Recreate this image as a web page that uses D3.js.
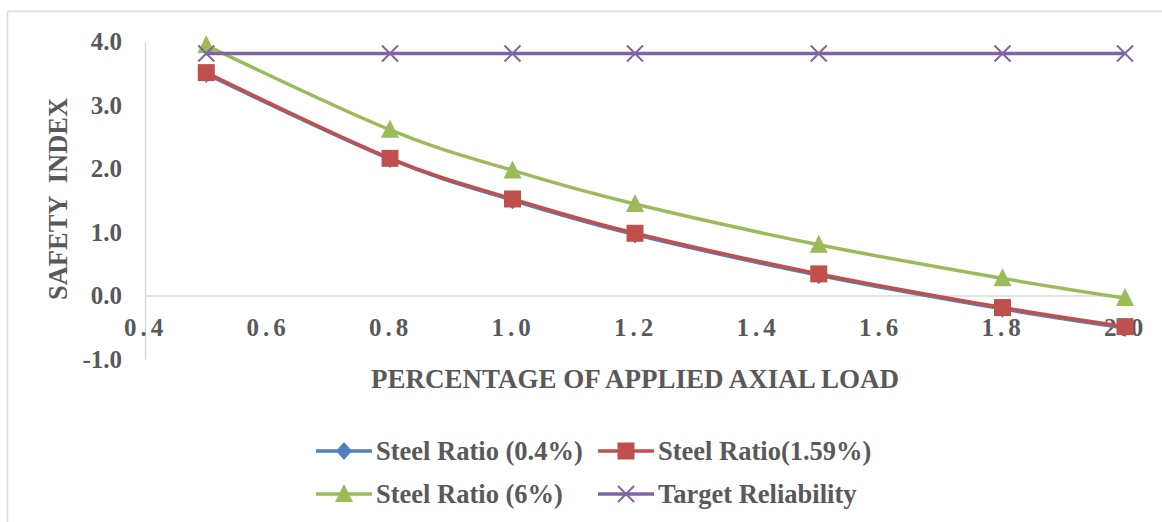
<!DOCTYPE html>
<html>
<head>
<meta charset="utf-8">
<script src="https://cdn.jsdelivr.net/npm/d3@7"></script>
<style>
  body { margin: 0; background: #fff; }
  text { font-family: "Liberation Serif", "Times New Roman", serif; font-weight: bold; fill: #595959; }
</style>
</head>
<body>
<div id="chart-area"></div>
<script>
// data
let loads = [0.5, 0.8, 1.0, 1.2, 1.5, 1.8, 2.0];
let steel04 = [3.49, 2.15, 1.50, 0.96, 0.32, -0.21, -0.51];
let steel159 = [3.51, 2.16, 1.52, 0.98, 0.34, -0.19, -0.49];
let steel6 = [3.94, 2.61, 1.97, 1.44, 0.80, 0.27, -0.04];
let target = [3.81, 3.81, 3.81, 3.81, 3.81, 3.81, 3.81];
let xTicks = [0.4, 0.6, 0.8, 1.0, 1.2, 1.4, 1.6, 1.8, 2.0];
let yTicks = [-1, 0, 1, 2, 3, 4];

let seriesNames = ["Steel Ratio (0.4%)", "Steel Ratio(1.59%)", "Steel Ratio (6%)", "Target Reliability"];
let seriesColors = ["#4F81BD", "#C0504D", "#9BBB59", "#8064A2"];
let seriesShapes = ["diamond", "square", "triangle", "cross"];

let W = 1162, H = 522;

let svg = d3.select("#chart-area").append("svg")
	.attr("width", W)
	.attr("height", H);

// chart frame (only top and left edges show)
svg.append("line").attr("x1", 7.5).attr("x2", W).attr("y1", 11.5).attr("y2", 11.5)
	.attr("stroke", "#d9d9d9").attr("stroke-width", 1.5);
svg.append("line").attr("x1", 7.5).attr("x2", 7.5).attr("y1", 11.5).attr("y2", H)
	.attr("stroke", "#d9d9d9").attr("stroke-width", 1.5);

// scales
let x = d3.scaleLinear().domain([0.4, 2.0]).range([145, 1125]);
let y = d3.scaleLinear().domain([-1, 4]).range([359, 41.5]);

// plain hyphen for negatives, like the original
let fmt = d => d3.format(".1f")(d).replace("\u2212", "-");

// axes
let xAxis = d3.axisBottom(x).tickValues(xTicks).tickFormat(fmt)
	.tickSize(0).tickPadding(23);
let yAxis = d3.axisLeft(y).tickValues(yTicks).tickFormat(fmt)
	.tickSize(0).tickPadding(23);

let gy = svg.append("g")
	.attr("transform", "translate(" + x(0.4) + ",0)")
	.call(yAxis);
let gx = svg.append("g")
	.attr("transform", "translate(0," + y(0) + ")")
	.call(xAxis);

[gx, gy].forEach(g => {
	g.attr("font-family", null).attr("font-size", null);
	g.select(".domain").attr("stroke", "#d9d9d9").attr("stroke-width", 1.5);
	g.selectAll("text").style("font-size", "25px").attr("fill", "#595959");
});
gx.selectAll("text").style("letter-spacing", "4px");

// axis titles
svg.append("text")
	.attr("x", (x(0.4) + x(2.0)) / 2)
	.attr("y", 388)
	.attr("text-anchor", "middle")
	.style("font-size", "27px")
	.text("PERCENTAGE OF APPLIED AXIAL LOAD");

svg.append("text")
	.attr("transform", "translate(67," + 199 + ") rotate(-90)")
	.attr("text-anchor", "middle")
	.style("font-size", "26.5px")
	.style("white-space", "pre")
	.text("SAFETY  INDEX");

// series
let series = [steel04, steel159, steel6, target].map((vals, i) => ({
	name: seriesNames[i],
	color: seriesColors[i],
	shape: seriesShapes[i],
	values: loads.map((l, j) => ({x: l, y: vals[j]}))
}));

let line = d3.line()
	.x(d => x(d.x))
	.y(d => y(d.y))
	.curve(d3.curveCatmullRom.alpha(0));

function drawMarker(g, shape, color, cx, cy) {
	if (shape === "square") {
		g.append("rect").attr("x", cx - 8.5).attr("y", cy - 8.5)
			.attr("width", 17).attr("height", 17).attr("fill", color);
	} else if (shape === "diamond") {
		g.append("path")
			.attr("d", "M" + cx + "," + (cy - 9) + "L" + (cx + 8) + "," + cy + "L" + cx + "," + (cy + 9) + "L" + (cx - 8) + "," + cy + "Z")
			.attr("fill", color);
	} else if (shape === "triangle") {
		g.append("path")
			.attr("d", "M" + cx + "," + (cy - 10) + "L" + (cx + 9) + "," + (cy + 8) + "L" + (cx - 9) + "," + (cy + 8) + "Z")
			.attr("fill", color);
	} else {
		g.append("path")
			.attr("d", "M" + (cx - 8) + "," + (cy - 8) + "L" + (cx + 8) + "," + (cy + 8) + "M" + (cx + 8) + "," + (cy - 8) + "L" + (cx - 8) + "," + (cy + 8))
			.attr("stroke", color).attr("stroke-width", 2).attr("fill", "none");
	}
}

series.forEach(s => {
	let g = svg.append("g");
	g.append("path")
		.datum(s.values)
		.attr("fill", "none")
		.attr("stroke", s.color)
		.attr("stroke-width", 3.5)
		.attr("d", line);
	s.values.forEach(d => drawMarker(g, s.shape, s.color, x(d.x), y(d.y)));
});

// legend
let legendPos = [[316, 451], [598, 451], [316, 494], [598, 494]];
series.forEach((s, i) => {
	let lx = legendPos[i][0], ly = legendPos[i][1];
	let g = svg.append("g");
	g.append("line").attr("x1", lx).attr("x2", lx + 56).attr("y1", ly).attr("y2", ly)
		.attr("stroke", s.color).attr("stroke-width", 3.5);
	drawMarker(g, s.shape, s.color, lx + 28, ly);
	g.append("text")
		.attr("x", lx + 60)
		.attr("y", ly + 9)
		.style("font-size", "26.5px")
		.text(s.name);
});
</script>
</body>
</html>
